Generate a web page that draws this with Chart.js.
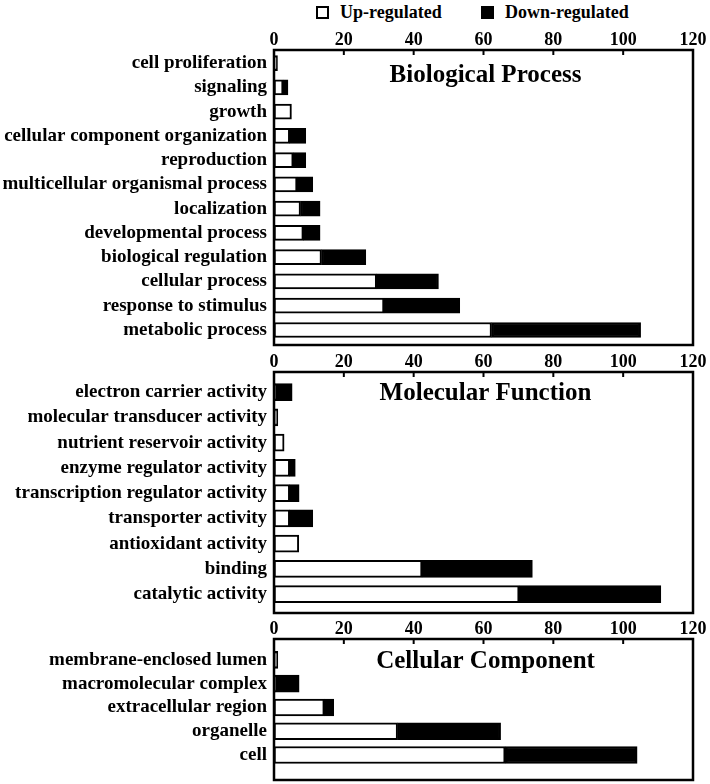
<!DOCTYPE html>
<html lang="en">
<head>
<meta charset="UTF-8">
<title>GO classification</title>
<script src="https://cdn.jsdelivr.net/npm/chart.js"></script>
<style>
  body { margin: 0; padding: 0; background: #fff; font-family: 'Liberation Serif', 'Times New Roman', serif; }
  #wrap { position: relative; width: 710px; height: 784px; }
  canvas { position: absolute; left: 0; }
  .leg { position: absolute; top: 1px; height: 22px; display: flex; align-items: center; font-weight: 700; font-size: 18px; color: #000; }
  .leg span { display: inline-block; width: 9px; height: 9px; border: 2px solid #000; margin-right: 11px; }
</style>
</head>
<body>
<div id="wrap">
  <div class="leg" style="left:316px"><span style="background:#fff"></span>Up-regulated</div>
  <div class="leg" style="left:481px"><span style="background:#000"></span>Down-regulated</div>
  <canvas id="bp" width="710" height="350" style="top:0"></canvas>
  <canvas id="mf" width="710" height="265" style="top:350px"></canvas>
  <canvas id="cc" width="710" height="169" style="top:615px"></canvas>
</div>
<script>
// Biological Process
const bpCats = ['cell proliferation', 'signaling', 'growth', 'cellular component organization', 'reproduction',
  'multicellular organismal process', 'localization', 'developmental process', 'biological regulation',
  'cellular process', 'response to stimulus', 'metabolic process'];
const bpUp   = [1, 2.6, 5, 4.5, 5.5, 6.6, 7.6, 8.4, 13.6, 29.4, 31.5, 62.3];
const bpDown = [0, 1.4, 0, 4.6, 3.6, 4.5, 5.6, 4.8, 12.7, 17.7, 21.7, 42.7];

// Molecular Function
const mfCats = ['electron carrier activity', 'molecular transducer activity', 'nutrient reservoir activity',
  'enzyme regulator activity', 'transcription regulator activity', 'transporter activity',
  'antioxidant activity', 'binding', 'catalytic activity'];
const mfUp   = [0.5, 1.1, 2.9, 4.5, 4.5, 4.5, 7.1, 42.4, 70.2];
const mfDown = [4.7, 0, 0, 1.6, 2.7, 6.6, 0, 31.6, 40.6];

// Cellular Component
const ccCats = ['membrane-enclosed lumen', 'macromolecular complex', 'extracellular region', 'organelle', 'cell'];
const ccUp   = [1.1, 0.5, 14.4, 35.4, 66.2];
const ccDown = [0, 6.7, 2.7, 29.5, 37.8];

const xTicks = [0, 20, 40, 60, 80, 100, 120];

const serif = 'Liberation Serif';

// frame box, inward top ticks and panel title
const framePlugin = {
  id: 'frame',
  afterDraw(chart, args, opts) {
    const { ctx, chartArea: a } = chart;
    const xs = chart.scales.x;
    ctx.save();
    ctx.strokeStyle = '#000';
    ctx.lineWidth = 2.5;
    ctx.strokeRect(a.left, a.top, a.right - a.left, a.bottom - a.top);
    ctx.lineWidth = 2;
    xTicks.slice(1, -1).forEach(v => {
      const px = xs.getPixelForValue(v);
      ctx.beginPath();
      ctx.moveTo(px, a.top);
      ctx.lineTo(px, a.top + 5);
      ctx.stroke();
    });
    ctx.fillStyle = '#000';
    ctx.font = 'bold 25px "' + serif + '"';
    ctx.textAlign = 'center';
    ctx.textBaseline = 'alphabetic';
    ctx.fillText(opts.text, (a.left + a.right) / 2 + 2, a.top + opts.baseline);
    ctx.restore();
  }
};

function makePanel(id, cats, up, down, o) {
  const pts = arr => arr.map((v, i) => ({ x: v, y: i }));
  return new Chart(document.getElementById(id), {
    type: 'bar',
    data: {
      datasets: [
        { label: 'Up-regulated', data: pts(up), backgroundColor: '#fff', borderColor: '#000',
          borderWidth: 2, borderSkipped: false, barThickness: o.bar },
        { label: 'Down-regulated', data: pts(down), backgroundColor: '#000', borderColor: '#000',
          borderWidth: 2, borderSkipped: false, barThickness: o.bar }
      ]
    },
    options: {
      indexAxis: 'y',
      responsive: false,
      animation: false,
      layout: { padding: { top: o.padTop, bottom: o.padBottom, left: 0, right: 17 } },
      plugins: {
        legend: { display: false },
        tooltip: { enabled: false },
        frame: { text: o.title, baseline: o.baseline }
      },
      scales: {
        x: {
          position: 'top', min: 0, max: 120, stacked: true,
          afterBuildTicks: s => { s.ticks = xTicks.map(v => ({ value: v })); },
          afterFit: s => { s.height = 22; },
          grid: { display: false, drawTicks: false },
          border: { display: false },
          ticks: { color: '#000', padding: -1, maxRotation: 0, font: { family: serif, size: 18, weight: 'bold' } }
        },
        y: {
          type: 'linear', reverse: true, offset: false, min: o.yMin, max: o.yMax, stacked: true,
          afterBuildTicks: s => { s.ticks = cats.map((c, i) => ({ value: i })); },
          afterFit: s => { s.width = 274; s.paddingTop = 0; s.paddingBottom = 0; },
          grid: { display: false, drawTicks: false },
          border: { display: false },
          ticks: { color: '#000', padding: 7, autoSkip: false,
            font: { family: serif, size: 19, weight: 'bold' },
            callback: v => cats[v] }
        }
      }
    },
    plugins: [framePlugin]
  });
}

makePanel('bp', bpCats, bpUp, bpDown,
  { title: 'Biological Process', baseline: 32, bar: 15, padTop: 28, padBottom: 5, yMin: -0.54, yMax: 11.62 });
makePanel('mf', mfCats, mfUp, mfDown,
  { title: 'Molecular Function', baseline: 28, bar: 17, padTop: 0, padBottom: 2, yMin: -0.8, yMax: 8.75 });
makePanel('cc', ccCats, ccUp, ccDown,
  { title: 'Cellular Component', baseline: 29, bar: 17, padTop: 2, padBottom: 4, yMin: -0.88, yMax: 5.05 });
</script>
</body>
</html>
